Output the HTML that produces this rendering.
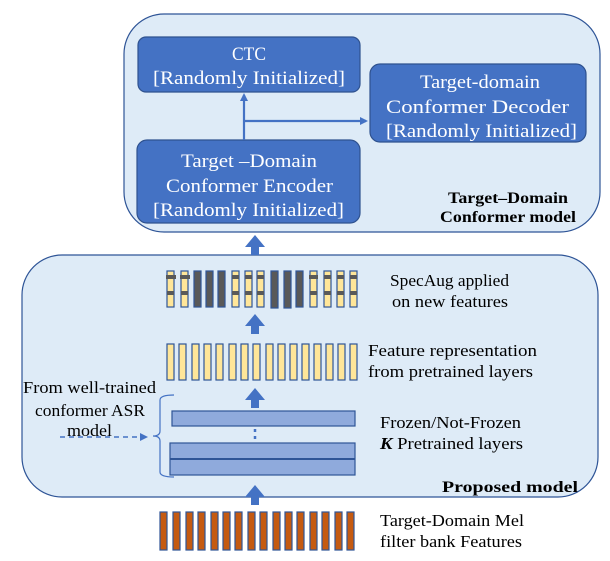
<!DOCTYPE html>
<html><head><style>body{margin:0;background:#fff}svg{display:block}</style></head><body>
<svg width="610" height="561" viewBox="0 0 610 561" xmlns="http://www.w3.org/2000/svg" font-family="Liberation Serif, serif">
<defs>
<marker id="ah" markerWidth="8" markerHeight="8" refX="6" refY="4" orient="auto" markerUnits="userSpaceOnUse"><path d="M0,0 L8,4 L0,8 z" fill="#4472c4"/></marker>
<g id="bigup"><path d="M-4,0 L-4,-8 L-10,-8 L0,-20 L10,-8 L4,-8 L4,0 z" fill="#4472c4"/></g>
</defs>
<rect x="124" y="14" width="476" height="218" rx="40" fill="#deebf7" stroke="#2f5597" stroke-width="1.2"/>
<rect x="22" y="255" width="576" height="242" rx="40" fill="#deebf7" stroke="#2f5597" stroke-width="1.2"/>
<g fill="#4472c4" stroke="#2f528f" stroke-width="1.2">
<rect x="138" y="37" width="222" height="55" rx="8"/>
<rect x="137" y="140" width="223" height="83" rx="10"/>
<rect x="370" y="64" width="216" height="78" rx="10"/>
</g>
<g fill="#fff" font-size="19">
<text x="232" y="60" textLength="34" lengthAdjust="spacingAndGlyphs">CTC</text><text x="153" y="84" textLength="192" lengthAdjust="spacingAndGlyphs">[Randomly Initialized]</text>
<text x="181" y="167" textLength="136" lengthAdjust="spacingAndGlyphs">Target –Domain</text><text x="166" y="192" textLength="167" lengthAdjust="spacingAndGlyphs">Conformer Encoder</text><text x="153" y="216" textLength="191" lengthAdjust="spacingAndGlyphs">[Randomly Initialized]</text>
<text x="420" y="88" textLength="120" lengthAdjust="spacingAndGlyphs">Target-domain</text><text x="386" y="113" textLength="183" lengthAdjust="spacingAndGlyphs">Conformer  Decoder</text><text x="386" y="137" textLength="191" lengthAdjust="spacingAndGlyphs">[Randomly Initialized]</text>
</g>
<line x1="244" y1="140" x2="244" y2="95" stroke="#4472c4" stroke-width="2.2" marker-end="url(#ah)"/>
<line x1="244" y1="121" x2="366" y2="121" stroke="#4472c4" stroke-width="2.2" marker-end="url(#ah)"/>
<g font-weight="bold" font-size="16" fill="#000">
<text x="448" y="203" textLength="120" lengthAdjust="spacingAndGlyphs">Target–Domain</text><text x="440" y="222" textLength="136" lengthAdjust="spacingAndGlyphs">Conformer model</text>
<text x="442" y="492" textLength="136" lengthAdjust="spacingAndGlyphs">Proposed model</text>
</g>
<use href="#bigup" x="255" y="255"/>
<use href="#bigup" x="255" y="334"/>
<use href="#bigup" x="255" y="408"/>
<use href="#bigup" x="255" y="505"/>
<g stroke="#2f5597" stroke-width="1.2">
<rect x="167" y="271" width="7" height="36" fill="#ffe699"/><rect x="181" y="271" width="7" height="36" fill="#ffe699"/>
<rect x="194" y="271" width="7" height="36" fill="#595959"/><rect x="206" y="271" width="7" height="36" fill="#595959"/><rect x="218" y="271" width="7" height="36" fill="#595959"/>
<rect x="232" y="271" width="7" height="36" fill="#ffe699"/><rect x="245" y="271" width="7" height="36" fill="#ffe699"/><rect x="257" y="271" width="7" height="36" fill="#ffe699"/>
<rect x="271" y="271" width="7" height="37" fill="#595959"/><rect x="284" y="271" width="7" height="37" fill="#595959"/><rect x="296" y="271" width="7" height="36" fill="#595959"/>
<rect x="310" y="271" width="7" height="36" fill="#ffe699"/><rect x="324" y="271" width="7" height="36" fill="#ffe699"/><rect x="337" y="271" width="7" height="36" fill="#ffe699"/><rect x="350" y="271" width="7" height="36" fill="#ffe699"/>
</g>
<g fill="#595959">
<rect x="166" y="275" width="10" height="4"/><rect x="180" y="275" width="10" height="4"/><rect x="232" y="275" width="7" height="4"/><rect x="245" y="275" width="7" height="4"/><rect x="257" y="275" width="7" height="4"/><rect x="309" y="275" width="9" height="4"/><rect x="324" y="275" width="7" height="4"/><rect x="337" y="275" width="7" height="4"/><rect x="350" y="275" width="7" height="4"/>
<rect x="167" y="291" width="7" height="4"/><rect x="181" y="291" width="7" height="4"/><rect x="232" y="291" width="7" height="4"/><rect x="245" y="291" width="7" height="4"/><rect x="257" y="291" width="7" height="4"/><rect x="310" y="291" width="7" height="4"/><rect x="324" y="291" width="7" height="4"/><rect x="337" y="291" width="7" height="4"/><rect x="350" y="291" width="7" height="4"/>
</g>
<g stroke="#2f5597" stroke-width="1.2" fill="#ffe699">
<rect x="167" y="344" width="7" height="36"/><rect x="179" y="344" width="7" height="36"/><rect x="192" y="344" width="7" height="36"/><rect x="204" y="344" width="7" height="36"/><rect x="216" y="344" width="7" height="36"/><rect x="229" y="344" width="7" height="36"/><rect x="241" y="344" width="7" height="36"/><rect x="253" y="344" width="7" height="36"/><rect x="266" y="344" width="7" height="36"/><rect x="278" y="344" width="7" height="36"/><rect x="290" y="344" width="7" height="36"/><rect x="302" y="344" width="7" height="36"/><rect x="314" y="344" width="7" height="36"/><rect x="326" y="344" width="7" height="36"/><rect x="338" y="344" width="7" height="36"/><rect x="350" y="344" width="7" height="36"/>
</g>
<g stroke="#2f5597" stroke-width="1.2" fill="#c55a11">
<rect x="160" y="512" width="7" height="38"/><rect x="173" y="512" width="7" height="38"/><rect x="186" y="512" width="7" height="38"/><rect x="198" y="512" width="7" height="38"/><rect x="211" y="512" width="7" height="38"/><rect x="223" y="512" width="7" height="38"/><rect x="235" y="512" width="7" height="38"/><rect x="248" y="512" width="7" height="38"/><rect x="260" y="512" width="7" height="38"/><rect x="273" y="512" width="7" height="38"/><rect x="285" y="512" width="7" height="38"/><rect x="297" y="512" width="7" height="38"/><rect x="310" y="512" width="7" height="38"/><rect x="322" y="512" width="7" height="38"/><rect x="335" y="512" width="7" height="38"/><rect x="347" y="512" width="7" height="38"/>
</g>
<g fill="#8faadc" stroke="#2f5597" stroke-width="1.2">
<rect x="172" y="411" width="183" height="15"/>
<rect x="170" y="443" width="185" height="32"/>
</g>
<line x1="170" y1="459" x2="355" y2="459" stroke="#2f5597" stroke-width="2"/>
<line x1="255" y1="429" x2="255" y2="441" stroke="#4472c4" stroke-width="2.5" stroke-dasharray="3,4"/>
<path d="M174,395 Q160,395 160,400 L160,431 Q160,436 153,436 Q160,436 160,441 L160,472 Q160,477 174,477" fill="none" stroke="#4472c4" stroke-width="1.2"/>
<line x1="60" y1="437" x2="146" y2="437" stroke="#4472c4" stroke-width="1.5" stroke-dasharray="5,4" marker-end="url(#ah)"/>
<g font-size="17" fill="#000">
<text x="23" y="393" textLength="133" lengthAdjust="spacingAndGlyphs">From well-trained</text>
<text x="35" y="416" textLength="110" lengthAdjust="spacingAndGlyphs">conformer ASR</text>
<text x="67" y="436" textLength="45" lengthAdjust="spacingAndGlyphs">model</text>
</g>
<g font-size="17" fill="#000">
<text x="390" y="286" textLength="119" lengthAdjust="spacingAndGlyphs">SpecAug applied</text><text x="392" y="307" textLength="116" lengthAdjust="spacingAndGlyphs">on new features</text>
<text x="368" y="356" textLength="169" lengthAdjust="spacingAndGlyphs">Feature representation</text><text x="368" y="377" textLength="165" lengthAdjust="spacingAndGlyphs">from pretrained layers</text>
<text x="380" y="428" textLength="141" lengthAdjust="spacingAndGlyphs">Frozen/Not-Frozen</text><text x="380" y="449" textLength="143" lengthAdjust="spacingAndGlyphs"><tspan font-weight="bold" font-style="italic">K</tspan> Pretrained  layers</text>
<text x="380" y="526" textLength="144" lengthAdjust="spacingAndGlyphs">Target-Domain Mel</text><text x="380" y="547" textLength="142" lengthAdjust="spacingAndGlyphs">filter bank Features</text>
</g>
</svg>
</body></html>
